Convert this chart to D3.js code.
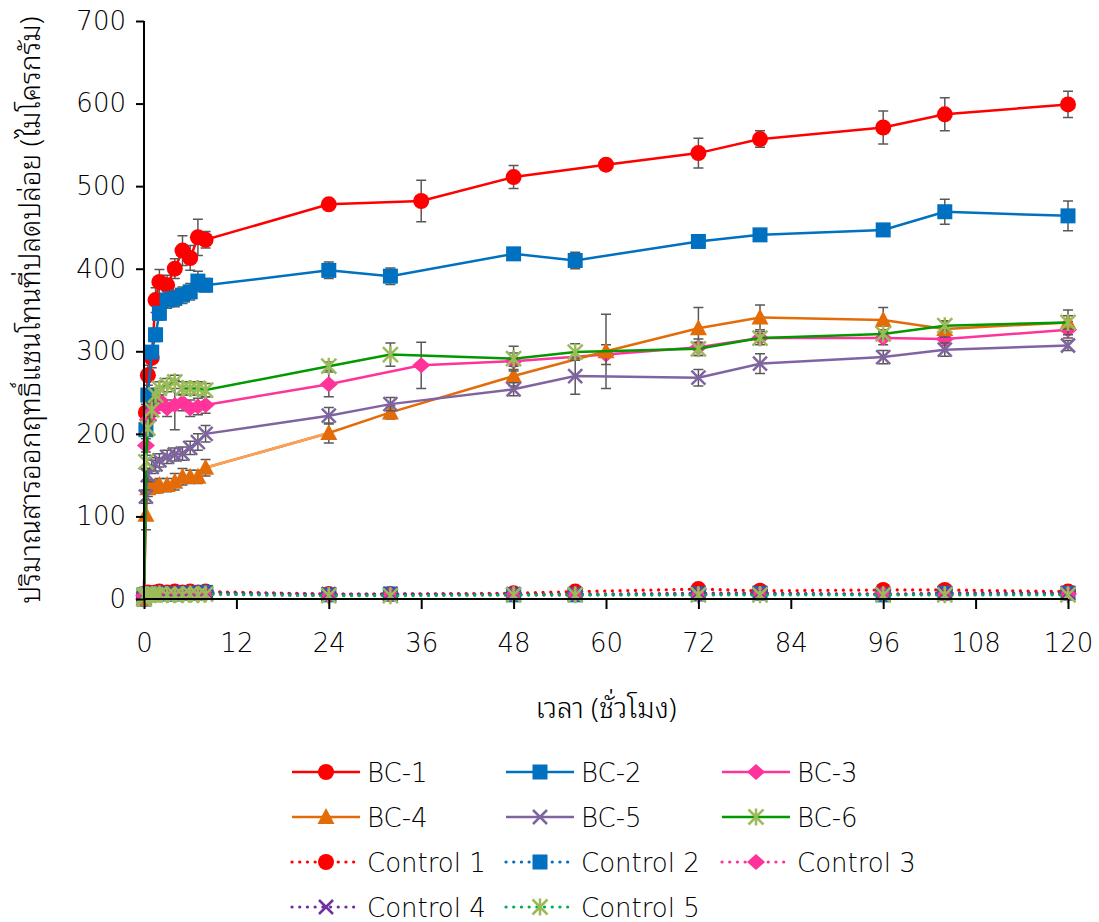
<!DOCTYPE html>
<html>
<head>
<meta charset="utf-8">
<script src="https://cdn.jsdelivr.net/npm/d3@7"></script>
<style>
  html, body { margin: 0; padding: 0; background: #ffffff; }
  svg { display: block; }
  text { fill: #000; }
  .thai { font-family: "Noto Sans Thai Looped", "Noto Serif Thai", "Loma", "Garuda", "Sarabun", "Noto Sans Thai", "DejaVu Sans", sans-serif; font-weight: 300; }
  .lat { font-family: "DejaVu Sans", "Noto Sans", sans-serif; font-weight: 200; }
</style>
</head>
<body>
<svg id="chart" width="1099" height="922"></svg>
<script>
// ---------------- DATA ----------------
const xTicks = [0, 12, 24, 36, 48, 60, 72, 84, 96, 108, 120];
const yTicks = [0, 100, 200, 300, 400, 500, 600, 700];
const xTitle = "เวลา (ชั่วโมง)";
const yTitle = "ปริมาณสารออกฤทธิ์แซนโทนที่ปลดปล่อย (ไมโครกรัม)";

const timeEarly = [0, 0.25, 0.5, 1, 1.5, 2, 3, 4, 5, 6, 7, 8];
const timeLateA = [24, 36, 48, 60, 72, 80, 96, 104, 120];
const timeLateB = [24, 32, 48, 56, 72, 80, 96, 104, 120];
const timeLateC = [24, 32, 48, 60, 72, 80, 96, 104, 120];

const bc1 = [0, 226, 271, 292, 362, 384, 380, 400, 422, 413, 438, 435, 478, 482, 511, 526, 540, 557, 571, 587, 599];
const bc1Err = [0, 10, 12, 12, 15, 15, 12, 12, 18, 15, 22, 10, 5, 25, 14, 5, 18, 10, 20, 20, 16];
const bc2 = [0, 205, 247, 299, 320, 346, 362, 364, 368, 372, 385, 380, 398, 391, 418, 410, 433, 441, 447, 469, 464];
const bc2Err = [0, 5, 5, 5, 8, 8, 10, 10, 10, 10, 12, 8, 10, 10, 5, 10, 5, 5, 5, 15, 18];
const bc3 = [0, 186, 217, 226, 235, 241, 231, 235, 238, 231, 233, 235, 260, 283, 288, 296, 305, 316, 316, 315, 326];
const bc3Err = [0, 8, 8, 10, 10, 12, 10, 30, 10, 10, 10, 10, 15, 28, 10, 12, 10, 8, 8, 8, 10];
const bc4 = [0, 102, 134, 136, 136, 138, 138, 142, 148, 148, 148, 159, 201, 226, 270, 300, 328, 341, 338, 327, 335];
const bc4Err = [0, 18, 10, 8, 8, 8, 8, 10, 10, 8, 8, 10, 12, 8, 12, 45, 25, 15, 15, 10, 15];
const bc5 = [0, 124, 150, 160, 163, 168, 172, 175, 176, 183, 190, 200, 222, 236, 254, 270, 268, 285, 293, 302, 307];
const bc5Err = [0, 8, 8, 8, 8, 8, 8, 8, 8, 8, 10, 10, 10, 8, 8, 22, 10, 12, 8, 8, 6];
const bc6 = [0, 166, 207, 229, 247, 255, 259, 263, 255, 255, 255, 253, 282, 296, 291, 299, 303, 316, 321, 331, 335];
const bc6Err = [0, 8, 8, 8, 8, 8, 8, 8, 8, 8, 8, 8, 5, 14, 15, 10, 8, 5, 5, 5, 8];

const ctrl1 = [5, 6, 8, 7, 8, 9, 8, 9, 8, 9, 8, 9, 6, 6, 7, 9, 12, 10, 11, 11, 9];
const ctrl2 = [5, 5, 6, 6, 6, 7, 6, 6, 7, 7, 7, 8, 5, 6, 5, 5, 6, 7, 5, 7, 7];
const ctrl3 = [4, 5, 5, 6, 5, 6, 6, 5, 6, 6, 5, 6, 4, 5, 5, 5, 5, 6, 6, 5, 6];
const ctrl4 = [5, 6, 6, 7, 6, 7, 7, 6, 7, 7, 6, 7, 6, 6, 6, 6, 7, 7, 6, 7, 7];
const ctrl5 = [4, 5, 5, 5, 5, 6, 5, 5, 5, 6, 5, 6, 4, 4, 5, 5, 5, 5, 5, 5, 5];

const seriesDefs = [
  { name: "BC-1", t: timeEarly.concat(timeLateA), v: bc1, e: bc1Err, line: "#FF0000", mark: "#FF0000", sym: "circle", dash: false },
  { name: "BC-2", t: timeEarly.concat(timeLateB), v: bc2, e: bc2Err, line: "#0070C0", mark: "#0070C0", sym: "square", dash: false },
  { name: "BC-3", t: timeEarly.concat(timeLateA), v: bc3, e: bc3Err, line: "#FF3399", mark: "#FF3399", sym: "diamond", dash: false },
  { name: "BC-4", t: timeEarly.concat(timeLateC), v: bc4, e: bc4Err, line: "#E36C09", mark: "#E36C09", sym: "triangle", dash: false, fade: "#F9A15A" },
  { name: "BC-5", t: timeEarly.concat(timeLateB), v: bc5, e: bc5Err, line: "#8064A2", mark: "#8064A2", sym: "x", dash: false },
  { name: "BC-6", t: timeEarly.concat(timeLateB), v: bc6, e: bc6Err, line: "#009900", mark: "#9BBB59", sym: "star", dash: false },
  { name: "Control 1", t: timeEarly.concat(timeLateB), v: ctrl1, e: null, line: "#FF0000", mark: "#FF0000", sym: "circle", dash: true },
  { name: "Control 2", t: timeEarly.concat(timeLateB), v: ctrl2, e: null, line: "#0070C0", mark: "#0070C0", sym: "square", dash: true },
  { name: "Control 3", t: timeEarly.concat(timeLateB), v: ctrl3, e: null, line: "#FF3399", mark: "#FF3399", sym: "diamond", dash: true },
  { name: "Control 4", t: timeEarly.concat(timeLateB), v: ctrl4, e: null, line: "#7030A0", mark: "#7030A0", sym: "x", dash: true },
  { name: "Control 5", t: timeEarly.concat(timeLateB), v: ctrl5, e: null, line: "#00B050", mark: "#9BBB59", sym: "star", dash: true }
];

// ---------------- CHART ----------------
const svg = d3.select("#chart");
const x = d3.scaleLinear().domain([0, 120]).range([144, 1068]);
const y = d3.scaleLinear().domain([0, 700]).range([599, 21]);

function styleLine(sel, s) {
  sel.attr("fill", "none").attr("stroke", s.line);
  if (s.dash) sel.attr("stroke-width", 3.2).attr("stroke-dasharray", "0.1,7.6").attr("stroke-linecap", "round");
  else sel.attr("stroke-width", 2.5);
  return sel;
}

function drawMarker(g, sym, cx, cy, color) {
  if (sym === "circle") {
    g.append("circle").attr("cx", cx).attr("cy", cy).attr("r", 8).attr("fill", color);
  } else if (sym === "square") {
    g.append("rect").attr("x", cx - 7.5).attr("y", cy - 7.5).attr("width", 15).attr("height", 15).attr("fill", color);
  } else if (sym === "diamond") {
    g.append("path").attr("d", `M${cx},${cy-8}L${cx+9},${cy}L${cx},${cy+8}L${cx-9},${cy}Z`).attr("fill", color);
  } else if (sym === "triangle") {
    g.append("path").attr("d", `M${cx},${cy-9}L${cx+8.5},${cy+7}L${cx-8.5},${cy+7}Z`).attr("fill", color);
  } else if (sym === "x") {
    const s = 7;
    g.append("path").attr("d", `M${cx-s},${cy-s}L${cx+s},${cy+s}M${cx-s},${cy+s}L${cx+s},${cy-s}`)
      .attr("stroke", color).attr("stroke-width", 2.5).attr("fill", "none");
  } else if (sym === "star") {
    const s = 7.5;
    g.append("path").attr("d", `M${cx-s},${cy-s}L${cx+s},${cy+s}M${cx-s},${cy+s}L${cx+s},${cy-s}M${cx},${cy-s-1}L${cx},${cy+s+1}`)
      .attr("stroke", color).attr("stroke-width", 2.5).attr("fill", "none");
  }
}

const plot = svg.append("g");

seriesDefs.forEach(s => {
  const pts = s.t.map((t, i) => ({ t, v: s.v[i], e: s.e ? s.e[i] : 0 }));
  const g = plot.append("g");
  const line = d3.line().x(d => x(d.t)).y(d => y(d.v));
  styleLine(g.append("path").datum(pts).attr("d", line), s);
  if (s.fade) {
    // lighter segment between the last early point and the first late point
    const seg = pts.filter(d => d.t === 8 || d.t === 24);
    g.append("path").datum(seg).attr("d", line).attr("fill", "none")
      .attr("stroke", s.fade).attr("stroke-width", 2.5);
  }
  if (s.e) {
    pts.forEach(d => {
      if (!d.e) return;
      const cx = x(d.t), y1 = y(d.v + d.e), y2 = y(d.v - d.e);
      g.append("path").attr("d", `M${cx},${y1}L${cx},${y2}M${cx-5},${y1}L${cx+5},${y1}M${cx-5},${y2}L${cx+5},${y2}`)
        .attr("stroke", "#595959").attr("stroke-width", 1.5).attr("fill", "none");
    });
  }
  pts.forEach(d => drawMarker(g, s.sym, x(d.t), y(d.v), s.mark));
});

// axes
const xAxis = d3.axisBottom(x).tickValues(xTicks).tickSize(10).tickPadding(18);
const yAxis = d3.axisLeft(y).tickValues(yTicks).tickSize(8).tickPadding(10);
const gx = svg.append("g").attr("transform", `translate(0,${y(0)})`).call(xAxis);
const gy = svg.append("g").attr("transform", `translate(${x(0)},0)`).call(yAxis);
[gx, gy].forEach(g => {
  g.select(".domain").attr("stroke", "#000").attr("stroke-width", 2);
  g.selectAll(".tick line").attr("stroke", "#000").attr("stroke-width", 2);
  g.selectAll(".tick text").attr("class", "lat").attr("font-size", 26).attr("fill", "#000")
    .style("font-family", null);
});
gx.selectAll(".tick text").attr("dy", "0.95em");
gx.select(".domain").attr("d", `M${x(0)},0H${x(120)}`);
gy.select(".domain").attr("d", `M0,${y(700)}V${y(0)}`);

// titles
svg.append("text").attr("class", "thai").attr("x", 606).attr("y", 718).attr("text-anchor", "middle")
  .attr("font-size", 28).text(xTitle);
svg.append("text").attr("class", "thai").attr("transform", `translate(40,310) rotate(-90)`).attr("text-anchor", "middle")
  .attr("font-size", 28).text(yTitle);

// legend
const legCols = [292, 506, 722];
const legRows = [772, 817, 862, 907];
seriesDefs.forEach((s, i) => {
  const cx0 = legCols[i % 3], cy = legRows[Math.floor(i / 3)];
  const g = svg.append("g");
  styleLine(g.append("line").attr("x1", cx0).attr("x2", cx0 + 68).attr("y1", cy).attr("y2", cy), s);
  drawMarker(g, s.sym, cx0 + 34, cy, s.mark);
  g.append("text").attr("class", "lat").attr("x", cx0 + 75).attr("y", cy + 10).attr("font-size", 26).text(s.name);
});
</script>
</body>
</html>
